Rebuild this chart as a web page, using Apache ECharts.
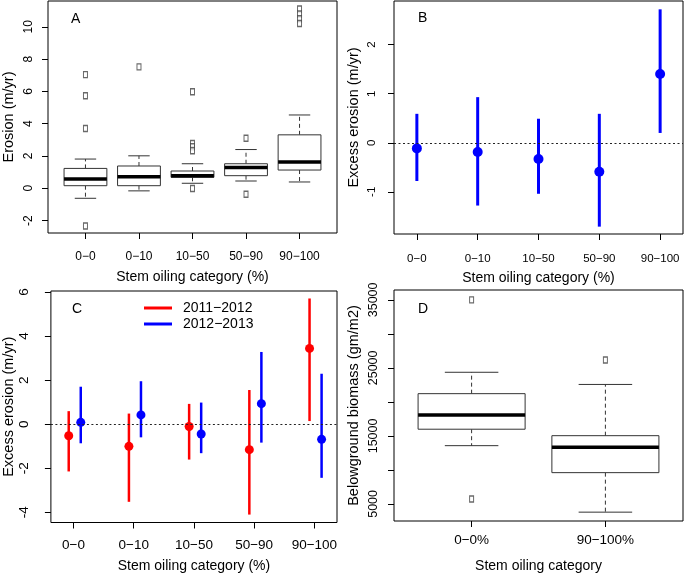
<!DOCTYPE html>
<html>
<head>
<meta charset="utf-8">
<script src="https://cdn.jsdelivr.net/npm/echarts@6/dist/echarts.min.js"></script>
<style>
html,body{margin:0;padding:0;background:#fff;}
#chart{width:685px;height:574px;}
</style>
</head>
<body>
<div id="chart"></div>
<script>
// ---------------- DATA ----------------
const oilCats = ['0\u22120', '0\u221210', '10\u221250', '50\u221290', '90\u2212100'];

// Panel A: erosion boxplots (m/yr)
const aWhiskerLow  = [-0.62, -0.16, 0.31, 0.45, 0.39];
const aQ1          = [0.16, 0.16, 0.68, 0.78, 1.13];
const aMedian      = [0.57, 0.72, 0.78, 1.29, 1.62];
const aQ3          = [1.23, 1.38, 1.07, 1.52, 3.31];
const aWhiskerHigh = [1.81, 2.01, 1.52, 2.40, 4.54];
const aOutliers = [
  [1, 7.04], [1, 5.73], [1, 3.70], [1, -2.34],
  [2, 7.52],
  [3, 5.98], [3, 2.77], [3, 2.57], [3, 2.32], [3, -0.02],
  [4, 3.10], [4, -0.37],
  [5, 11.1], [5, 10.8], [5, 10.5], [5, 10.2]
];
const aTicks = [-2, 0, 2, 4, 6, 8, 10];

// Panel B: excess erosion, mean and interval
const bMean = [-0.115, -0.19, -0.33, -0.59, 1.40];
const bLow  = [-0.78, -1.28, -1.04, -1.71, 0.20];
const bHigh = [0.59, 0.93, 0.49, 0.59, 2.72];
const bTicks = [-1, 0, 1, 2];

// Panel C: excess erosion by year
const yearNames = ['2011\u22122012', '2012\u22122013'];
const c1Mean = [-0.53, -1.01, -0.11, -1.16, 3.44];
const c1Low  = [-2.15, -3.53, -1.61, -4.11, 0.14];
const c1High = [0.59, 0.48, 0.92, 1.55, 5.71];
const c2Mean = [0.08, 0.42, -0.45, 0.93, -0.69];
const c2Low  = [-0.87, -0.60, -1.32, -0.84, -2.44];
const c2High = [1.70, 1.95, 0.98, 3.28, 2.29];
const cTicks = [-4, -2, 0, 2, 4, 6];

// Panel D: belowground biomass boxplots (gm/m2)
const dCats = ['0\u22120%', '90\u2212100%'];
const dWhiskerLow  = [13565, 3790];
const dQ1          = [15984, 9597];
const dMedian      = [18065, 13323];
const dQ3          = [21210, 15032];
const dWhiskerHigh = [24355, 22565];
const dOutliers = [[1, 35000], [1, 5726], [2, 26145]];
const dTicks = [5000, 10000, 15000, 20000, 25000, 30000, 35000];
const dTickLabels = [5000, 15000, 25000, 35000];

// ---------------- BUILD ----------------
const FONT = 'Liberation Sans, Arial, Helvetica, sans-serif';
const idx = (arr) => arr.map((_, i) => i + 1);

function boxData(lo, q1, md, q3, hi) {
  return lo.map((v, i) => [i + 1, v, q1[i], md[i], q3[i], hi[i]]);
}
function errData(m, lo, hi) {
  return m.map((v, i) => [i + 1, v, lo[i], hi[i]]);
}

function boxRender(params, api) {
  const x = api.value(0);
  const lo = api.value(1), q1 = api.value(2), md = api.value(3), q3 = api.value(4), hi = api.value(5);
  const hw = 0.4, cw = 0.2;
  const tl = api.coord([x - hw, q3]);
  const br = api.coord([x + hw, q1]);
  const m = api.coord([x, md]);
  const c = api.coord([x, q1])[0];
  const yHi = api.coord([x, hi])[1], yLo = api.coord([x, lo])[1];
  const capL = api.coord([x - cw, hi])[0], capR = api.coord([x + cw, hi])[0];
  const boxStroke = '#333';
  return {
    type: 'group',
    children: [
      { type: 'line', shape: { x1: c, y1: tl[1], x2: c, y2: yHi }, style: { stroke: boxStroke, lineWidth: 1, lineDash: [4, 3] } },
      { type: 'line', shape: { x1: c, y1: br[1], x2: c, y2: yLo }, style: { stroke: boxStroke, lineWidth: 1, lineDash: [4, 3] } },
      { type: 'line', shape: { x1: capL, y1: yHi, x2: capR, y2: yHi }, style: { stroke: boxStroke, lineWidth: 1 } },
      { type: 'line', shape: { x1: capL, y1: yLo, x2: capR, y2: yLo }, style: { stroke: boxStroke, lineWidth: 1 } },
      { type: 'rect', shape: { x: tl[0], y: tl[1], width: br[0] - tl[0], height: br[1] - tl[1] }, style: { fill: '#fff', stroke: boxStroke, lineWidth: 1 } },
      { type: 'line', shape: { x1: tl[0], y1: m[1], x2: br[0], y2: m[1] }, style: { stroke: '#000', lineWidth: 3.5 } }
    ]
  };
}

function errRender(color, lw, r, dx) {
  return function (params, api) {
    const x = api.value(0) + dx;
    const pm = api.coord([x, api.value(1)]);
    const plo = api.coord([x, api.value(2)]);
    const phi = api.coord([x, api.value(3)]);
    return {
      type: 'group',
      children: [
        { type: 'line', shape: { x1: phi[0], y1: phi[1], x2: plo[0], y2: plo[1] }, style: { stroke: color, lineWidth: lw } },
        { type: 'circle', shape: { cx: pm[0], cy: pm[1], r: r }, style: { fill: color } }
      ]
    };
  };
}

function xAxisCfg(grid, min, max, cats, fontSize, margin, name, nameGap) {
  return {
    type: 'value', gridIndex: grid, min: min, max: max, position: 'bottom',
    axisLine: { show: false, onZero: false },
    splitLine: { show: false },
    axisTick: { show: true, customValues: idx(cats), length: 6, lineStyle: { color: '#000', width: 1 } },
    axisLabel: { customValues: idx(cats), formatter: (v) => cats[Math.round(v) - 1], fontSize: fontSize, color: '#000', fontFamily: FONT, margin: margin },
    name: name, nameLocation: 'middle', nameGap: nameGap,
    nameTextStyle: { fontSize: 14, color: '#000', fontFamily: FONT }
  };
}
function yAxisCfg(grid, min, max, ticks, labels, fontSize, margin, name, nameGap) {
  return {
    type: 'value', gridIndex: grid, min: min, max: max, position: 'left',
    axisLine: { show: false, onZero: false },
    splitLine: { show: false },
    axisTick: { show: true, customValues: ticks, length: 6, lineStyle: { color: '#000', width: 1 } },
    axisLabel: { customValues: labels, rotate: 90, fontSize: fontSize, color: '#000', fontFamily: FONT, margin: margin,
      formatter: (v) => String(v) },
    name: name, nameLocation: 'middle', nameGap: nameGap, nameRotate: 90,
    nameTextStyle: { fontSize: 14.5, color: '#000', fontFamily: FONT }
  };
}

const gridStyle = { show: true, borderColor: '#000', borderWidth: 1, backgroundColor: 'transparent' };
const zeroLine = {
  silent: true, symbol: ['none', 'none'], label: { show: false },
  lineStyle: { color: '#222', type: [2, 2.5], width: 1 },
  emphasis: { disabled: true },
  data: [{ yAxis: 0 }]
};
const outlierStyle = { color: '#fff', borderColor: '#444', borderWidth: 1.2 };
const RED = '#ff0000', BLUE = '#0000ff';

const option = {
  backgroundColor: '#fff',
  animation: false,
  grid: [
    Object.assign({ left: 46, top: 1, width: 291, height: 232 }, gridStyle),
    Object.assign({ left: 394, top: 1, width: 289, height: 233 }, gridStyle),
    Object.assign({ left: 47, top: 291, width: 290, height: 233 }, gridStyle),
    Object.assign({ left: 394, top: 290, width: 289, height: 234 }, gridStyle)
  ],
  xAxis: [
    xAxisCfg(0, 0.3, 5.7, oilCats, 12, 18, 'Stem oiling category (%)', 37),
    xAxisCfg(1, 0.624, 5.376, oilCats, 11.5, 18.5, 'Stem oiling category (%)', 37),
    xAxisCfg(2, 0.624, 5.376, oilCats, 13.5, 16, 'Stem oiling category (%)', 36.5),
    xAxisCfg(3, 0.42, 2.58, dCats, 13.5, 12, 'Stem oiling category', 38)
  ],
  yAxis: [
    yAxisCfg(0, -2.77, 11.6, aTicks, aTicks, 12, 13, 'Erosion (m/yr)', 32),
    yAxisCfg(1, -1.86, 2.89, bTicks, bTicks, 11.5, 16, 'Excess erosion (m/yr)', 33),
    yAxisCfg(2, -4.47, 6.05, cTicks, cTicks, 13.5, 20, 'Excess erosion (m/yr)', 32),
    yAxisCfg(3, 2489, 36451, dTicks, dTickLabels, 12.5, 14, 'Belowground biomass (gm/m2)', 33)
  ],
  legend: {
    data: [{ name: yearNames[0], icon: 'rect' }, { name: yearNames[1], icon: 'rect' }],
    orient: 'vertical', left: 139, top: 295, itemWidth: 28, itemHeight: 3, itemGap: 0,
    selectedMode: false,
    textStyle: { fontSize: 14, color: '#000', fontFamily: FONT, lineHeight: 16, padding: [0, 0, 0, 6] }
  },
  graphic: [
    { type: 'text', left: 71, top: 12, style: { text: 'A', fontSize: 14, fill: '#000', fontFamily: FONT } },
    { type: 'text', left: 418, top: 11, style: { text: 'B', fontSize: 14, fill: '#000', fontFamily: FONT } },
    { type: 'text', left: 72, top: 302, style: { text: 'C', fontSize: 14, fill: '#000', fontFamily: FONT } },
    { type: 'text', left: 418, top: 302, style: { text: 'D', fontSize: 14, fill: '#000', fontFamily: FONT } }
  ],
  series: [
    { type: 'custom', name: 'A box', xAxisIndex: 0, yAxisIndex: 0, renderItem: boxRender,
      data: boxData(aWhiskerLow, aQ1, aMedian, aQ3, aWhiskerHigh) },
    { type: 'scatter', name: 'A out', xAxisIndex: 0, yAxisIndex: 0, symbol: 'rect', symbolSize: [4, 6],
      itemStyle: outlierStyle, data: aOutliers },
    { type: 'custom', name: 'B', xAxisIndex: 1, yAxisIndex: 1, itemStyle: { color: BLUE },
      renderItem: errRender(BLUE, 3, 5, 0), data: errData(bMean, bLow, bHigh), markLine: zeroLine },
    { type: 'custom', name: yearNames[0], xAxisIndex: 2, yAxisIndex: 2, itemStyle: { color: RED },
      renderItem: errRender(RED, 2.5, 4.5, -0.08), data: errData(c1Mean, c1Low, c1High), markLine: zeroLine },
    { type: 'custom', name: yearNames[1], xAxisIndex: 2, yAxisIndex: 2, itemStyle: { color: BLUE },
      renderItem: errRender(BLUE, 2.5, 4.5, 0.12), data: errData(c2Mean, c2Low, c2High) },
    { type: 'custom', name: 'D box', xAxisIndex: 3, yAxisIndex: 3, renderItem: boxRender,
      data: boxData(dWhiskerLow, dQ1, dMedian, dQ3, dWhiskerHigh) },
    { type: 'scatter', name: 'D out', xAxisIndex: 3, yAxisIndex: 3, symbol: 'rect', symbolSize: [4, 6],
      itemStyle: outlierStyle, data: dOutliers }
  ]
};

const chart = echarts.init(document.getElementById('chart'), null, { renderer: 'canvas' });
chart.setOption(option);
</script>
</body>
</html>
